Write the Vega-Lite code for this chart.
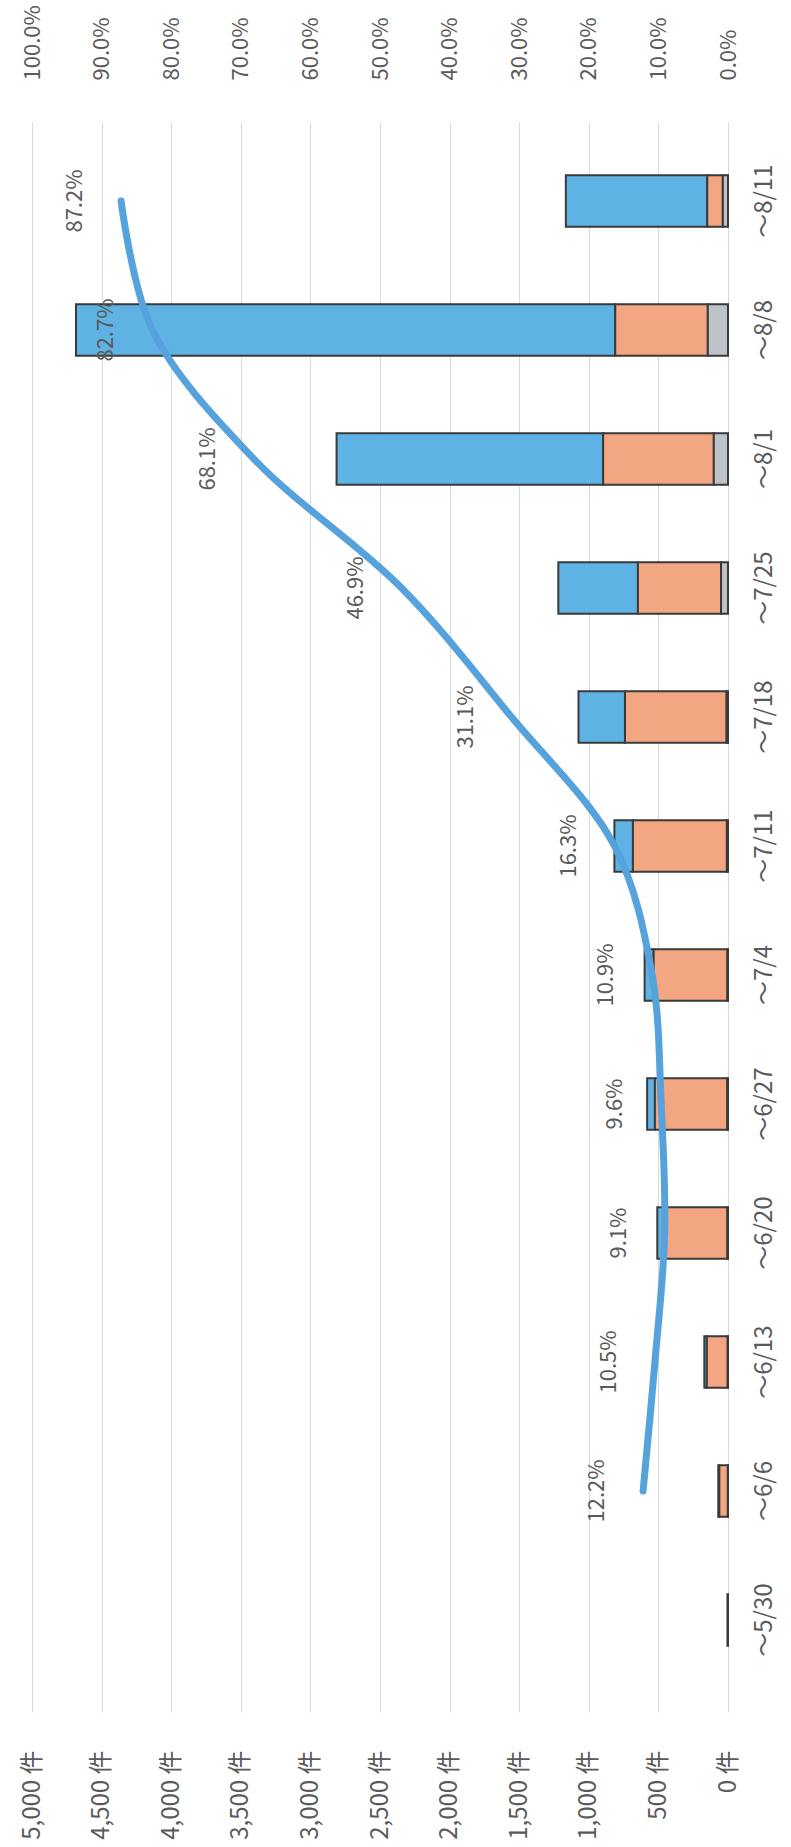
{
  "$schema": "https://vega.github.io/schema/vega-lite/v6.json",
  "autosize": {"type": "none"},
  "padding": {"left": 32, "top": 122, "right": 63, "bottom": 135},
  "width": 696,
  "height": 1590,
  "background": "white",
  "config": {
    "view": {"stroke": null},
    "font": "Noto Sans CJK JP",
    "axis": {"labelFont": "Noto Sans CJK JP", "labelFontSize": 22, "labelColor": "#5a5a5a", "labelOverlap": false, "labelBound": false, "labelFlush": false}
  },
  "datasets": {
    "bars": [
      {"period": "～5/30", "kind": "陰性", "count": 4},
      {"period": "～6/6", "kind": "陽性", "count": 8},
      {"period": "～6/6", "kind": "陰性", "count": 61},
      {"period": "～6/6", "kind": "判定不能", "count": 1},
      {"period": "～6/13", "kind": "陽性", "count": 18},
      {"period": "～6/13", "kind": "陰性", "count": 150},
      {"period": "～6/13", "kind": "判定不能", "count": 2},
      {"period": "～6/20", "kind": "陽性", "count": 46},
      {"period": "～6/20", "kind": "陰性", "count": 458},
      {"period": "～6/20", "kind": "判定不能", "count": 4},
      {"period": "～6/27", "kind": "陽性", "count": 56},
      {"period": "～6/27", "kind": "陰性", "count": 520},
      {"period": "～6/27", "kind": "判定不能", "count": 5},
      {"period": "～7/4", "kind": "陽性", "count": 65},
      {"period": "～7/4", "kind": "陰性", "count": 530},
      {"period": "～7/4", "kind": "判定不能", "count": 4},
      {"period": "～7/11", "kind": "陽性", "count": 133},
      {"period": "～7/11", "kind": "陰性", "count": 675},
      {"period": "～7/11", "kind": "判定不能", "count": 8},
      {"period": "～7/18", "kind": "陽性", "count": 334},
      {"period": "～7/18", "kind": "陰性", "count": 730},
      {"period": "～7/18", "kind": "判定不能", "count": 10},
      {"period": "～7/25", "kind": "陽性", "count": 572},
      {"period": "～7/25", "kind": "陰性", "count": 597},
      {"period": "～7/25", "kind": "判定不能", "count": 50},
      {"period": "～8/1", "kind": "陽性", "count": 1915},
      {"period": "～8/1", "kind": "陰性", "count": 795},
      {"period": "～8/1", "kind": "判定不能", "count": 102},
      {"period": "～8/8", "kind": "陽性", "count": 3874},
      {"period": "～8/8", "kind": "陰性", "count": 665},
      {"period": "～8/8", "kind": "判定不能", "count": 145},
      {"period": "～8/11", "kind": "陽性", "count": 1016},
      {"period": "～8/11", "kind": "陰性", "count": 112},
      {"period": "～8/11", "kind": "判定不能", "count": 37}
    ],
    "rate": [
      {"period": "～6/6", "rate": 0.122},
      {"period": "～6/13", "rate": 0.105},
      {"period": "～6/20", "rate": 0.091},
      {"period": "～6/27", "rate": 0.096},
      {"period": "～7/4", "rate": 0.109},
      {"period": "～7/11", "rate": 0.163},
      {"period": "～7/18", "rate": 0.311},
      {"period": "～7/25", "rate": 0.469},
      {"period": "～8/1", "rate": 0.681},
      {"period": "～8/8", "rate": 0.827},
      {"period": "～8/11", "rate": 0.872}
    ]
  },
  "layer": [
    {
      "data": {"name": "bars"},
      "mark": {"type": "bar", "stroke": "#3a3a3a", "strokeWidth": 2},
      "encoding": {
        "y": {
          "field": "period", "type": "nominal",
          "sort": ["～8/11", "～8/8", "～8/1", "～7/25", "～7/18", "～7/11", "～7/4", "～6/27", "～6/20", "～6/13", "～6/6", "～5/30"],
          "scale": {"paddingInner": 0.6, "paddingOuter": 0.463, "align": 0.446},
          "axis": {"orient": "right", "title": null, "labelAngle": 270, "labelAlign": "center", "labelBaseline": "top", "labelPadding": 24, "labelFontSize": 24, "domain": false, "ticks": false}
        },
        "x": {
          "field": "count", "type": "quantitative", "stack": "zero",
          "scale": {"domain": [0, 5000], "reverse": true, "nice": false},
          "axis": {"orient": "bottom", "title": null, "values": [0, 500, 1000, 1500, 2000, 2500, 3000, 3500, 4000, 4500, 5000],
                   "labelExpr": "format(datum.value, ',') + ' 件'", "labelAngle": 270, "labelAlign": "right", "labelBaseline": "middle",
                   "labelFontSize": 24, "labelPadding": 38, "domain": false, "ticks": false, "grid": true, "gridColor": "#d9d9d9", "gridWidth": 1}
        },
        "color": {
          "field": "kind", "type": "nominal",
          "scale": {"domain": ["陽性", "陰性", "判定不能"], "range": ["#5fb2e4", "#f2a681", "#bfc3c9"]},
          "legend": null
        },
        "order": {"field": "kind", "sort": "ascending"}
      }
    },
    {
      "data": {"name": "rate"},
      "layer": [
        {
          "mark": {"type": "line", "color": "#56a2dc", "strokeWidth": 7, "strokeCap": "round", "strokeJoin": "round", "interpolate": "catmull-rom"},
          "encoding": {
            "y": {"field": "period", "type": "nominal",
                  "sort": ["～8/11", "～8/8", "～8/1", "～7/25", "～7/18", "～7/11", "～7/4", "～6/27", "～6/20", "～6/13", "～6/6", "～5/30"]},
            "x": {"field": "rate", "type": "quantitative",
                  "scale": {"domain": [0, 1], "reverse": true, "nice": false},
                  "axis": {"orient": "top", "title": null, "values": [0, 0.1, 0.2, 0.3, 0.4, 0.5, 0.6, 0.7, 0.8, 0.9, 1],
                           "format": ".1%", "labelAngle": 270, "labelAlign": "left", "labelBaseline": "middle",
                           "labelFontSize": 22, "labelPadding": 42, "domain": false, "ticks": false, "grid": false}}
          }
        },
        {
          "mark": {"type": "text", "angle": 270, "align": "center", "baseline": "middle", "dy": -46, "fontSize": 22, "color": "#5a5a5a", "font": "Noto Sans CJK JP"},
          "encoding": {
            "y": {"field": "period", "type": "nominal",
                  "sort": ["～8/11", "～8/8", "～8/1", "～7/25", "～7/18", "～7/11", "～7/4", "～6/27", "～6/20", "～6/13", "～6/6", "～5/30"]},
            "x": {"field": "rate", "type": "quantitative"},
            "text": {"field": "rate", "type": "quantitative", "format": ".1%"}
          }
        }
      ]
    }
  ],
  "resolve": {"scale": {"x": "independent"}}
}
